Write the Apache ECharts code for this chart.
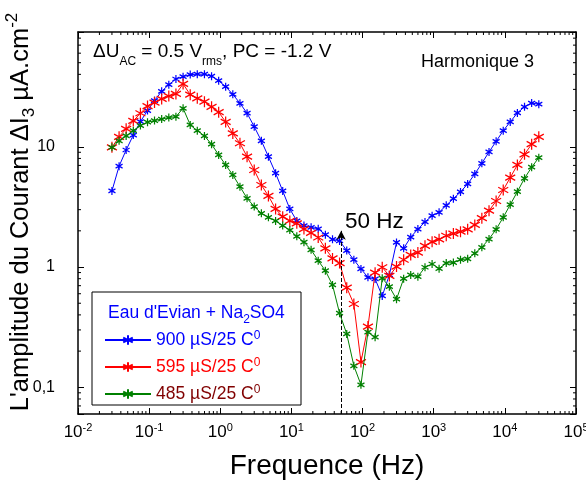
<!DOCTYPE html>
<html><head><meta charset="utf-8">
<script src="https://cdn.jsdelivr.net/npm/echarts@6/dist/echarts.min.js"></script>
<style>html,body{margin:0;padding:0;background:#fff}#c{width:586px;height:490px}</style>
</head><body><div id="c"></div>
<script>
// Frequencies (Hz)
const freq = [0.03, 0.0378, 0.0475, 0.0599, 0.0754, 0.0949, 0.119, 0.150, 0.189, 0.238,
  0.3, 0.378, 0.475, 0.599, 0.754, 0.949, 1.19, 1.50, 1.89, 2.38,
  3, 3.78, 4.75, 5.99, 7.54, 9.49, 11.9, 15.0, 18.9, 23.8,
  30, 37.8, 47.5, 59.9, 75.4, 94.9, 119, 150, 189, 238,
  300, 378, 475, 599, 754, 949, 1190, 1500, 1890, 2380,
  3000, 3780, 4750, 5990, 7540, 9490, 11900, 15000, 18900, 23800, 30000];
// 900 µS/25 C0
const blue = [4.29, 6.9, 9.4, 12.5, 16.2, 20.0, 24.2, 28.9, 32.8, 36.6,
  38.3, 39.8, 40.1, 40.1, 38.6, 35.4, 31.6, 27.3, 23.0, 19.0,
  14.7, 11.2, 8.27, 6.03, 4.29, 3.04, 2.42, 2.21, 2.14, 2.08,
  1.86, 1.70, 1.65, 1.37, 1.15, 0.964, 0.822, 0.796, 0.575, 0.860,
  1.60, 1.43, 1.77, 2.07, 2.37, 2.67, 2.85, 3.26, 3.70, 4.21,
  4.91, 5.94, 7.29, 9.05, 11.1, 13.6, 16.1, 19.1, 21.5, 23.1, 22.6];
// 595 µS/25 C0
const red = [9.9, 12.1, 14.1, 16.4, 19.0, 21.8, 23.3, 25.0, 26.4, 27.5,
  33.3, 27.1, 25.3, 23.7, 21.5, 19.4, 16.1, 12.9, 10.7, 8.27,
  6.41, 4.81, 3.90, 3.04, 2.62, 2.42, 2.31, 2.07, 1.92, 1.76,
  1.43, 1.18, 1.08, 0.674, 0.493, 0.162, 0.320, 0.898, 0.996, 0.843,
  1.01, 1.15, 1.26, 1.32, 1.50, 1.62, 1.70, 1.82, 1.90, 1.97,
  2.06, 2.24, 2.55, 2.94, 3.54, 4.37, 5.54, 7.06, 8.66, 10.5, 12.1];
// 485 µS/25 C0
const green = [9.9, 11.2, 12.3, 13.6, 15.0, 16.0, 16.5, 17.0, 17.5, 17.8,
  20.9, 15.2, 13.6, 12.3, 10.5, 8.55, 7.06, 5.83, 4.66, 3.73,
  3.18, 2.8, 2.59, 2.42, 2.21, 2.03, 1.8, 1.61, 1.39, 1.13,
  0.933, 0.710, 0.413, 0.278, 0.151, 0.105, 0.287, 0.261, 0.807, 0.687,
  0.540, 0.801, 0.860, 0.832, 0.996, 1.06, 0.970, 1.08, 1.09, 1.15,
  1.17, 1.30, 1.46, 1.71, 2.06, 2.59, 3.30, 4.23, 5.47, 6.76, 8.12];
const seriesNames = ['900 µS/25 C', '595 µS/25 C', '485 µS/25 C'];
const lineColors = ['#0000ff', '#ff0000', '#008000'];
const legendTextColors = ['#0000ff', '#ff0000', '#800000'];
const yTickLabels = {'-1': '0,1', '0': '1', '1': '10'};
const XMIN = 0.01, XMAX = 100000, YMIN = 0.06, YMAX = 90;
const FONT = "'Liberation Sans', Arial, sans-serif";

const star = 'path://M0,-10L0,10M-8.66,-5L8.66,5M-8.66,5L8.66,-5';

function isPow(v) { const l = Math.log10(v); return Math.abs(l - Math.round(l)) < 1e-6; }

// minor tick positions (axis decoration)
const minorData = [];
for (let e = -2; e <= 4; e++) for (let m = 2; m <= 9; m++) minorData.push([m * Math.pow(10, e), YMIN, 0]);
for (let e = -2; e <= 1; e++) for (let m = 2; m <= 9; m++) {
  const v = m * Math.pow(10, e);
  if (v > YMIN + 1e-9 && v < YMAX - 1e-9) minorData.push([XMIN, v, 1]);
}

const chart = echarts.init(document.getElementById('c'), null, {renderer: 'canvas'});
const axisLineStyle = {color: '#000', width: 1.5};
const option = {
  animation: false,
  textStyle: {fontFamily: FONT},
  grid: {left: 78, right: 10, top: 32, bottom: 76, containLabel: false, outerBoundsMode: 'none'},
  xAxis: [{
    type: 'log', logBase: 10, min: XMIN, max: XMAX, position: 'bottom',
    name: 'Frequence (Hz)', nameLocation: 'middle', nameGap: 38,
    nameTextStyle: {fontSize: 28, color: '#000', fontFamily: FONT},
    axisLine: {onZero: false, lineStyle: axisLineStyle},
    axisTick: {inside: true, length: 6, lineStyle: {color: '#000', width: 1}},
    splitLine: {show: false},
    axisLabel: {
      margin: 8, color: '#000', fontSize: 17, fontFamily: FONT, lineHeight: 20,
      formatter: v => isPow(v) ? '10{sup|' + Math.round(Math.log10(v)) + '}' : '',
      rich: {sup: {fontSize: 11, verticalAlign: 'top', lineHeight: 20, fontFamily: FONT, color: '#000'}}
    }
  }, {
    type: 'log', logBase: 10, min: XMIN, max: XMAX, position: 'top',
    axisLine: {onZero: false, lineStyle: axisLineStyle},
    axisTick: {inside: true, length: 6, lineStyle: {color: '#000', width: 1}},
    axisLabel: {show: false}, splitLine: {show: false}
  }],
  yAxis: [{
    type: 'log', logBase: 10, min: YMIN, max: YMAX, position: 'left',
    axisLine: {onZero: false, lineStyle: axisLineStyle},
    axisTick: {inside: true, length: 6, lineStyle: {color: '#000', width: 1}},
    splitLine: {show: false},
    axisLabel: {
      margin: 23, color: '#000', fontSize: 16, fontFamily: FONT,
      formatter: v => isPow(v) ? (yTickLabels[String(Math.round(Math.log10(v)))] || '') : ''
    }
  }, {
    type: 'log', logBase: 10, min: YMIN, max: YMAX, position: 'right',
    axisLine: {onZero: false, lineStyle: axisLineStyle},
    axisTick: {inside: true, length: 6, lineStyle: {color: '#000', width: 1}},
    axisLabel: {show: false}, splitLine: {show: false}
  }],
  legend: {
    orient: 'vertical', left: 104, top: 330, itemWidth: 46, itemHeight: 12, itemGap: 8,
    selectedMode: false, padding: 0,
    textStyle: {fontSize: 17.5, fontFamily: FONT,
      rich: {s: {fontSize: 12, verticalAlign: 'top', lineHeight: 20, fontFamily: FONT}}},
    formatter: name => name + '{s|0}',
    data: seriesNames.map((n, i) => ({name: n, textStyle: {color: legendTextColors[i]}}))
  },
  graphic: [
    {type: 'text', x: 21, y: 212, rotation: Math.PI / 2, z: 6,
      style: {text: "L'amplitude du Courant ΔI{sub|3} µA.cm{sup|-2}", fill: '#000', font: '25.5px ' + FONT,
        align: 'center', verticalAlign: 'middle', lineHeight: 34,
        rich: {sub: {fontSize: 17, verticalAlign: 'bottom', lineHeight: 34, fill: '#000', fontFamily: FONT},
               sup: {fontSize: 17, verticalAlign: 'top', lineHeight: 34, fill: '#000', fontFamily: FONT}}}},
    {type: 'rect', shape: {x: 92, y: 292, width: 209, height: 113}, style: {fill: 'none', stroke: '#000', lineWidth: 1}, z: 5},
    {type: 'text', x: 108, y: 300, z: 6, style: {text: "Eau d'Evian + Na{sub|2}SO4", fill: '#0000ff', font: '17.5px ' + FONT,
      lineHeight: 22, rich: {sub: {fontSize: 12, verticalAlign: 'bottom', lineHeight: 26, fill: '#0000ff', fontFamily: FONT}}}},
    {type: 'text', x: 93, y: 36, z: 6, style: {text: 'ΔU{sub|AC} = 0.5 V{sub|rms}, PC = -1.2 V', fill: '#000', font: '19px ' + FONT,
      lineHeight: 32, rich: {sub: {fontSize: 12, verticalAlign: 'bottom', lineHeight: 32, fill: '#000', fontFamily: FONT}}}},
    {type: 'text', x: 421, y: 53, z: 6, style: {text: 'Harmonique 3', fill: '#000', font: '18px ' + FONT}},
    {type: 'text', x: 345, y: 210, z: 6, style: {text: '50 Hz', fill: '#000', font: '22.5px ' + FONT}}
  ],
  series: [
    ...[blue, red, green].map((arr, i) => ({
      type: 'line', name: seriesNames[i], xAxisIndex: 0, yAxisIndex: 0,
      data: freq.map((f, j) => [f, arr[j]]),
      symbol: star, symbolSize: i === 1 ? [10, 11] : [7, 8],
      lineStyle: {color: lineColors[i], width: 1},
      itemStyle: {color: lineColors[i], borderColor: lineColors[i], borderWidth: 1.3},
      z: 3 + i,
      markLine: i === 0 ? {
        silent: true, symbol: ['none', 'arrow'], symbolSize: [7, 9], label: {show: false},
        lineStyle: {color: '#000', type: 'dashed', width: 1},
        data: [[{coord: [50, YMIN]}, {coord: [50, 2.0]}]]
      } : undefined
    })),
    {
      type: 'custom', name: 'minorTicks', silent: true, clip: false, z: 10,
      xAxisIndex: 0, yAxisIndex: 0, data: minorData,
      renderItem: function (params, api) {
        const kind = api.value(2);
        const L = 3;
        if (kind === 0) {
          const v = api.value(0);
          const a = api.coord([v, YMIN]), b = api.coord([v, YMAX]);
          return {type: 'group', children: [
            {type: 'line', shape: {x1: a[0], y1: a[1], x2: a[0], y2: a[1] - L}, style: {stroke: '#000', lineWidth: 1}},
            {type: 'line', shape: {x1: b[0], y1: b[1], x2: b[0], y2: b[1] + L}, style: {stroke: '#000', lineWidth: 1}}
          ]};
        } else {
          const v = api.value(1);
          const a = api.coord([XMIN, v]), b = api.coord([XMAX, v]);
          return {type: 'group', children: [
            {type: 'line', shape: {x1: a[0], y1: a[1], x2: a[0] + L, y2: a[1]}, style: {stroke: '#000', lineWidth: 1}},
            {type: 'line', shape: {x1: b[0], y1: b[1], x2: b[0] - L, y2: b[1]}, style: {stroke: '#000', lineWidth: 1}}
          ]};
        }
      }
    }
  ]
};
chart.setOption(option);
</script></body></html>
